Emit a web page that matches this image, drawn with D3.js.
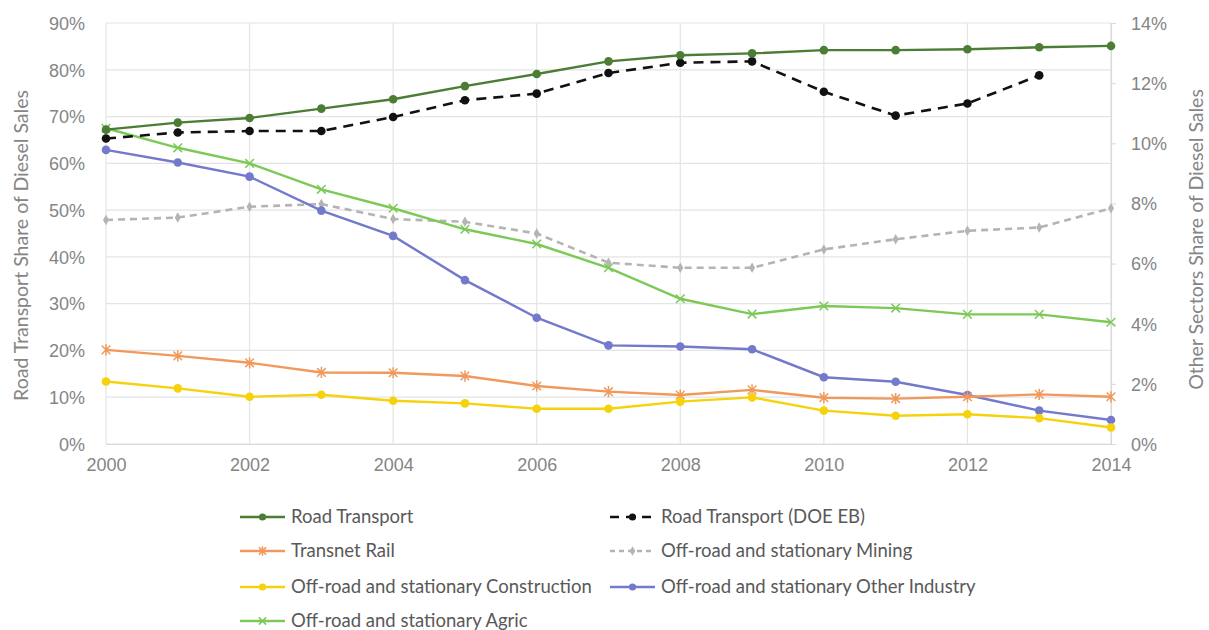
<!DOCTYPE html>
<html>
<head>
<meta charset="utf-8">
<script src="https://cdn.jsdelivr.net/npm/d3@7"></script>
<style>
  body { margin: 0; background: #fff; }
  svg { font-family: Lato, "Liberation Sans", sans-serif; }
  .tick text { fill: #858585; font-size: 18px; }
  .legend text { fill: #595959; font-size: 18.5px; }
</style>
</head>
<body>
<div id="chart"></div>
<script>
// years on the x axis
var years = d3.range(2000, 2015);
var xTicks = [2000, 2002, 2004, 2006, 2008, 2010, 2012, 2014];

// left axis (road transport), %
var roadTransport = [67.2, 68.7, 69.7, 71.7, 73.7, 76.5, 79.1, 81.8, 83.1, 83.5, 84.2, 84.2, 84.4, 84.8, 85.1];
var roadTransportDoe = [65.3, 66.6, 66.9, 66.9, 69.9, 73.5, 74.9, 79.3, 81.5, 81.8, 75.3, 70.2, 72.8, 78.8];

// right axis (other sectors), %
var transnetRail = [3.13, 2.93, 2.70, 2.38, 2.37, 2.26, 1.93, 1.74, 1.63, 1.80, 1.54, 1.51, 1.57, 1.65, 1.57];
var mining = [7.45, 7.53, 7.89, 7.98, 7.48, 7.39, 7.00, 6.03, 5.86, 5.86, 6.47, 6.81, 7.09, 7.20, 7.84];
var construction = [2.08, 1.85, 1.57, 1.64, 1.44, 1.35, 1.17, 1.17, 1.41, 1.55, 1.11, 0.94, 0.99, 0.86, 0.55];
var otherIndustry = [9.78, 9.36, 8.89, 7.76, 6.92, 5.45, 4.20, 3.28, 3.24, 3.15, 2.22, 2.07, 1.63, 1.11, 0.80];
var agric = [10.5, 9.85, 9.33, 8.47, 7.84, 7.14, 6.65, 5.86, 4.83, 4.32, 4.59, 4.52, 4.31, 4.31, 4.05];

var W = 1209, H = 630;
var margin = {top: 23, right: 98, bottom: 186, left: 106},
	width = W - margin.left - margin.right,
	height = H - margin.top - margin.bottom;

var svg = d3.select("#chart").append("svg")
	.attr("width", W)
	.attr("height", H);

var g = svg.append("g")
	.attr("transform", "translate(" + margin.left + "," + margin.top + ")");

var x = d3.scaleLinear().domain([2000, 2014]).range([0, width]);
var yL = d3.scaleLinear().domain([0, 90]).range([height, 0]);
var yR = d3.scaleLinear().domain([0, 14]).range([height, 0]);

// gridlines
g.append("g")
	.selectAll("line.h")
	.data(d3.range(0, 91, 10))
	.enter().append("line")
	.attr("x1", 0).attr("x2", width)
	.attr("y1", function(d) { return yL(d); })
	.attr("y2", function(d) { return yL(d); })
	.attr("stroke", "#e4e4e4").attr("stroke-width", 1.2);

g.append("g")
	.selectAll("line.v")
	.data(xTicks)
	.enter().append("line")
	.attr("x1", function(d) { return x(d); })
	.attr("x2", function(d) { return x(d); })
	.attr("y1", 0).attr("y2", height)
	.attr("stroke", "#e4e4e4").attr("stroke-width", 1.2);

// axes
var xAxis = g.append("g")
	.attr("transform", "translate(0," + height + ")")
	.call(d3.axisBottom(x).tickValues(xTicks).tickFormat(d3.format("d")).tickSize(0).tickPadding(14));
xAxis.select(".domain").attr("stroke", "#d9d9d9").attr("stroke-width", 1.2);

var leftAxis = g.append("g")
	.call(d3.axisLeft(yL).tickValues(d3.range(0, 91, 10)).tickFormat(function(d) { return d + "%"; }).tickSize(0).tickPadding(21));
leftAxis.select(".domain").remove();
leftAxis.selectAll(".tick text").attr("dy", "0.35em");

var rightAxis = g.append("g")
	.attr("transform", "translate(" + width + ",0)")
	.call(d3.axisRight(yR).tickValues(d3.range(0, 15, 2)).tickFormat(function(d) { return d + "%"; }).tickSize(5).tickSizeOuter(0).tickPadding(15));
rightAxis.select(".domain").attr("stroke", "#d9d9d9").attr("stroke-width", 1.2);
rightAxis.selectAll(".tick line").attr("stroke", "#d9d9d9");
rightAxis.selectAll(".tick text").attr("dy", "0.35em");

// axis titles
svg.append("text")
	.attr("transform", "translate(28," + (margin.top + height / 2 + 12) + ") rotate(-90)")
	.attr("text-anchor", "middle")
	.attr("fill", "#858585").style("font-size", "19.5px")
	.text("Road Transport Share of Diesel Sales");

svg.append("text")
	.attr("transform", "translate(1203," + (margin.top + height / 2 + 6) + ") rotate(-90)")
	.attr("text-anchor", "middle")
	.attr("fill", "#858585").style("font-size", "19.5px")
	.text("Other Sectors Share of Diesel Sales");

// series definitions
var series = [
	{name: "Road Transport", values: roadTransport, y: yL, color: "#4b7d34", dash: null, marker: "circle"},
	{name: "Road Transport (DOE EB)", values: roadTransportDoe, y: yL, color: "#111111", dash: "10,7", marker: "circle"},
	{name: "Transnet Rail", values: transnetRail, y: yR, color: "#f0995c", dash: null, marker: "star"},
	{name: "Off-road and stationary Mining", values: mining, y: yR, color: "#b4b4b4", dash: "7,5", marker: "diamond"},
	{name: "Off-road and stationary Construction", values: construction, y: yR, color: "#f5d20c", dash: null, marker: "circle"},
	{name: "Off-road and stationary Other Industry", values: otherIndustry, y: yR, color: "#7379cb", dash: null, marker: "circle"},
	{name: "Off-road and stationary Agric", values: agric, y: yR, color: "#7cc957", dash: null, marker: "x"}
];

// draw order: back to front
var drawOrder = [3, 6, 5, 2, 4, 1, 0];

function drawMarker(sel, marker, color, cx, cy, size) {
	if (marker === "circle") {
		sel.append("circle").attr("cx", cx).attr("cy", cy).attr("r", size).attr("fill", color);
	} else if (marker === "diamond") {
		sel.append("path")
			.attr("d", d3.symbol().type(d3.symbolDiamond).size(size * 9)())
			.attr("transform", "translate(" + cx + "," + cy + ")")
			.attr("fill", color);
	} else {
		var s = size;
		var p = "M" + (-s) + "," + (-s) + "L" + s + "," + s + "M" + (-s) + "," + s + "L" + s + "," + (-s);
		if (marker === "star") p += "M0," + (-s * 1.3) + "L0," + (s * 1.3);
		sel.append("path")
			.attr("d", p)
			.attr("transform", "translate(" + cx + "," + cy + ")")
			.attr("stroke", color).attr("stroke-width", 1.5).attr("fill", "none");
	}
}

drawOrder.forEach(function(i) {
	var s = series[i];
	var line = d3.line()
		.x(function(d, j) { return x(years[j]); })
		.y(function(d) { return s.y(d); });
	var sg = g.append("g");
	sg.append("path")
		.datum(s.values)
		.attr("d", line)
		.attr("fill", "none")
		.attr("stroke", s.color)
		.attr("stroke-width", s.dash ? 2.6 : 2.4)
		.attr("stroke-dasharray", s.dash);
	s.values.forEach(function(v, j) {
		drawMarker(sg, s.marker, s.color, x(years[j]), s.y(v), s.marker === "diamond" ? 3.5 : 4.3);
	});
});

// legend
var legendPos = [
	[240, 517], [610, 517],
	[240, 551], [610, 551],
	[240, 587], [610, 587],
	[240, 621]
];
var legend = svg.append("g").attr("class", "legend");
series.forEach(function(s, i) {
	var lx = legendPos[i][0], ly = legendPos[i][1];
	var lg = legend.append("g");
	lg.append("line")
		.attr("x1", lx).attr("x2", lx + 45)
		.attr("y1", ly).attr("y2", ly)
		.attr("stroke", s.color).attr("stroke-width", 2.4)
		.attr("stroke-dasharray", s.dash ? (i === 1 ? "9,7" : "5,4") : null);
	drawMarker(lg, s.marker, s.color, lx + 22.5, ly, s.marker === "diamond" ? 3 : 3.6);
	lg.append("text")
		.attr("x", lx + 51).attr("y", ly)
		.attr("dy", "0.35em")
		.text(s.name);
});
</script>
</body>
</html>
